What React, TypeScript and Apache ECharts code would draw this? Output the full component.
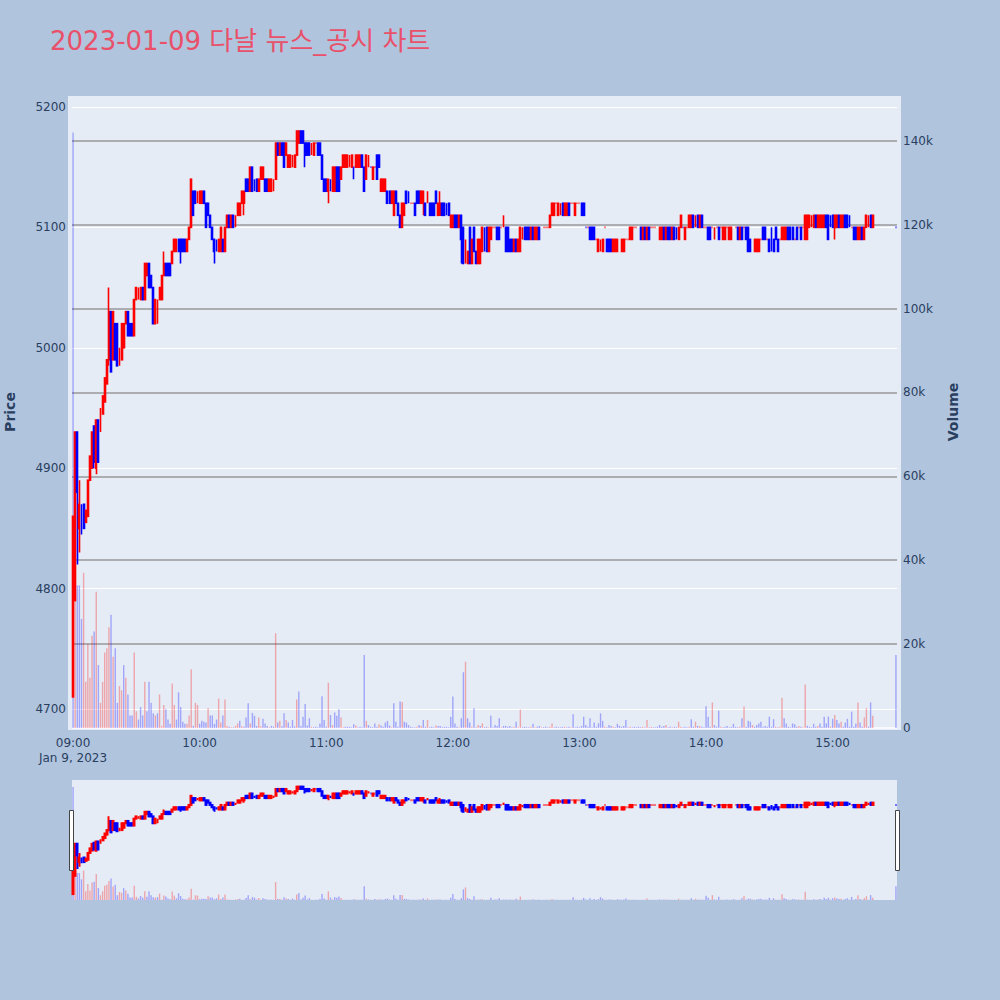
import React, { useEffect, useRef } from 'react';
import * as echarts from 'echarts';

const TITLE = '2023-01-09 다날 뉴스_공시 차트';
const DATE_LABEL = 'Jan 9, 2023';

// One row per minute from 09:00 to 15:19: [open, close] or [open, close, low, high]
const priceRows: number[][] = [
  [4710,4860],[4790,4930],[4930,4880,4820,4930],[4850,4870,4830,4890],[4870,4845],[4870,4850],[4855,4865],[4860,4890],[4890,4910],[4900,4930],
  [4935,4905,4900,4935],[4900,4940,4895,4940],[4940,4905],[4930,4950],[4945,4960],[4955,4975],[4970,4990],[4990,5030,4985,5050],[5030,4980],[4990,5030],
  [5020,4990],[5020,4985],[4985,5000],[4990,5020],[5000,5020],[5020,5030],[5030,5010],[5020,5010],[5020,5010],[5010,5040],
  [5040,5050],[5040,5050],[5040,5050],[5050,5040],[5040,5070],[5060,5070],[5070,5050],[5060,5050],[5050,5020],[5020,5040],
  [5020,5040],[5040,5050],[5040,5060],[5060,5070,5060,5080],[5070,5060],[5070,5060],[5070,5060],[5070,5080],[5080,5090],[5080,5090],
  [5090,5080],[5090,5080,5070,5090],[5090,5080],[5090,5080],[5080,5090],[5090,5100],[5100,5140],[5130,5110],[5130,5120],[5120,5130],
  [5120,5130],[5120,5130],[5130,5120],[5120,5100],[5120,5110],[5110,5100],[5100,5090],[5090,5080,5070,5090],[5090,5080],[5080,5090],
  [5080,5100],[5090,5080],[5080,5100],[5100,5110],[5110,5100],[5100,5110],[5110,5100],[5100,5110],[5110,5120],[5110,5120],
  [5120,5130],[5120,5130,5110,5130],[5140,5130],[5140,5130],[5130,5150],[5150,5130],[5140,5130],[5140,5130],[5130,5140],[5140,5150],
  [5140,5150],[5140,5130],[5140,5130],[5130,5140],[5130,5140],[5130,5140],[5140,5170],[5170,5160],[5160,5170],[5170,5160],
  [5170,5150],[5160,5170],[5150,5160],[5150,5160],[5150,5160],[5150,5160],[5160,5180],[5170,5180],[5180,5170],[5180,5170],
  [5170,5160,5150,5170],[5170,5160],[5170,5160],[5160,5170],[5160,5170],[5170,5170],[5170,5160],[5170,5160],[5160,5140],[5140,5130],
  [5140,5130],[5130,5140,5120,5140],[5140,5130],[5130,5150],[5130,5150],[5150,5130],[5150,5130],[5140,5150],[5150,5160],[5150,5160],
  [5150,5160],[5150,5160],[5150,5160],[5150,5150,5140,5150],[5150,5160],[5150,5160],[5150,5160],[5160,5150],[5150,5130],[5140,5160],
  [5150,5160],[5150,5150],[5140,5150],[5150,5150],[5160,5140],[5160,5150],[5130,5140],[5130,5140],[5130,5140],[5130,5120],
  [5130,5120],[5120,5130],[5110,5130],[5130,5120],[5120,5110],[5110,5100],[5100,5120],[5110,5120],[5130,5120],[5130,5120],
  [5120,5120],[5120,5120],[5120,5110],[5130,5120],[5130,5120],[5120,5130],[5120,5130,5110,5130],[5120,5110],[5120,5130],[5120,5110],
  [5120,5110],[5120,5110],[5130,5120],[5110,5120],[5110,5120,5110,5130],[5120,5110],[5120,5110],[5120,5110],[5120,5110],[5100,5110],
  [5100,5110],[5110,5100],[5110,5100],[5100,5110],[5110,5090,5070,5110],[5100,5070],[5070,5090],[5070,5080],[5100,5070],[5070,5090],
  [5100,5080],[5080,5070],[5070,5090],[5070,5090],[5080,5100],[5100,5080],[5100,5080],[5080,5100],[5090,5100],[5100,5100],
  [5100,5100],[5100,5090],[5100,5090],[5100,5100],[5100,5100,5100,5110],[5100,5080],[5100,5080],[5090,5080],[5090,5080],[5080,5090],
  [5090,5080],[5080,5090],[5080,5100],[5090,5100],[5100,5090],[5100,5090],[5100,5090],[5090,5100],[5100,5090],[5090,5100],
  [5090,5100],[5100,5090],[5100,5100],[5100,5100],[5100,5100],[5100,5100],[5100,5110],[5110,5120],[5110,5120],[5120,5120],
  [5110,5120],[5110,5120],[5120,5110],[5110,5120],[5110,5120],[5120,5110],[5120,5120],[5120,5120],[5110,5120],[5120,5120],
  [5120,5120],[5120,5110],[5120,5110],[5100,5100],[5100,5100],[5100,5090],[5100,5090],[5100,5090],[5090,5090],[5080,5090],
  [5080,5090],[5080,5090],[5100,5100],[5090,5080],[5090,5080],[5090,5080],[5080,5090],[5080,5090],[5080,5090],[5090,5090],
  [5080,5090],[5080,5090],[5090,5090],[5090,5090],[5090,5100],[5090,5100],[5100,5100],[5100,5100],[5100,5100],[5100,5090],
  [5090,5100],[5100,5090],[5090,5100],[5100,5090],[5100,5100],[5100,5100],[5100,5100],[5100,5100],[5090,5100],[5090,5100],
  [5100,5090],[5090,5100],[5100,5090],[5100,5090],[5090,5100],[5100,5090],[5100,5090],[5090,5100],[5100,5110],[5100,5100],
  [5090,5100],[5100,5100],[5100,5110],[5100,5110],[5110,5100],[5100,5110],[5110,5100],[5100,5110],[5110,5100],[5100,5100],
  [5100,5100],[5100,5090],[5100,5090],[5100,5100],[5090,5100],[5100,5100],[5100,5090],[5100,5100],[5090,5100],[5090,5100],
  [5100,5100],[5090,5100],[5090,5100],[5100,5100],[5100,5100],[5100,5090],[5090,5100],[5100,5090],[5100,5100],[5100,5090],
  [5100,5080],[5090,5080],[5090,5090],[5080,5090],[5080,5090],[5080,5090],[5090,5090],[5100,5090],[5100,5090],[5090,5090],
  [5090,5080],[5100,5080],[5090,5080],[5100,5090],[5090,5080],[5090,5090],[5090,5100],[5090,5100],[5090,5100],[5100,5090],
  [5100,5090],[5100,5090],[5090,5090],[5100,5090],[5100,5100],[5100,5090],[5100,5100],[5090,5110],[5090,5110],[5100,5110],
  [5100,5110],[5100,5110],[5110,5100],[5100,5110],[5100,5110],[5100,5110],[5100,5110],[5110,5100],[5110,5090],[5110,5100],
  [5110,5100],[5100,5110,5090,5110],[5100,5110],[5110,5100],[5100,5110],[5100,5110],[5110,5100],[5110,5100],[5110,5100],[5100,5100],
  [5100,5090],[5100,5090],[5090,5100],[5090,5100],[5100,5090],[5090,5100],[5100,5110],[5100,5110],[5110,5100],[5100,5110],
];

// Traded volume per minute, in thousands of shares
const volumeThousands: number[] = [
  142, 31, 34, 34, 26, 37, 11, 20, 12, 22,
  23, 32.5, 15, 6, 11, 18, 19, 24, 27, 17,
  19, 6, 10, 9, 15, 12, 8, 3, 3, 18,
  4, 2, 5, 3, 11, 4, 11, 6, 3.5, 3,
  3.5, 8, 0.5, 5.5, 4.5, 2, 1, 10.6, 5.5, 2,
  8.5, 5, 1.5, 1, 1, 3, 14, 0.5, 6, 5.5,
  1, 1.7, 1.5, 1.3, 4.7, 3, 3, 1, 2, 7,
  1.3, 3, 6.8, 0.5, 0.3, 0.2, 0.2, 0.5, 1.1, 1.7,
  0.4, 0.3, 2.5, 5.9, 1.1, 3.6, 2.9, 0.5, 2.5, 0.4,
  2.2, 1.1, 0.5, 0.2, 0.5, 0.3, 22.6, 1.3, 1.7, 0.4,
  3.5, 1.9, 1.3, 0.3, 1.9, 0.4, 6.8, 8.7, 0.5, 2.7,
  5.7, 0.6, 2.3, 0.3, 0.2, 0.3, 0.2, 1.1, 7.6, 1.9,
  0.3, 10.8, 3.1, 0.7, 3.7, 2.9, 4.5, 2.5, 0.2, 0.3,
  0.3, 0.3, 0.2, 0.9, 0.6, 0.2, 0.3, 0.2, 17.4, 1.7,
  0.7, 0.3, 0.2, 1.1, 0.3, 0.9, 0.6, 0.3, 1.3, 1.7,
  0.6, 0.2, 5.9, 1.5, 0.3, 6.3, 6.2, 1.5, 1.3, 0.7,
  0.3, 0.2, 0.2, 0.3, 0.7, 0.5, 1.9, 0.3, 1.9, 0.2,
  0.3, 0.2, 0.6, 0.5, 0.5, 0.2, 0.3, 0.3, 0.2, 2.7,
  7.5, 1.1, 0.3, 0.2, 2.3, 13.3, 15.8, 2.3, 1.3, 0.3,
  4.7, 0.2, 0.7, 0.5, 1.1, 0.2, 0.3, 0.2, 2.9, 0.2,
  0.7, 0.5, 2.3, 0.2, 0.5, 0.5, 0.3, 0.5, 0.2, 0.3,
  1.5, 0.2, 4.4, 0.2, 0.3, 0.2, 0.2, 0.3, 1, 0.2,
  0.3, 0.5, 0.2, 0.2, 0.3, 0.2, 0.3, 1.1, 0.2, 0.3,
  0.2, 0.2, 0.3, 0.3, 0.2, 0.3, 0.2, 3.3, 0.2, 0.3,
  0.2, 0.5, 2.7, 0.7, 0.3, 2.3, 0.2, 1.3, 0.3, 1.1,
  3.5, 1.7, 0.3, 0.2, 0.7, 0.5, 0.3, 0.2, 1, 0.5,
  0.3, 0.5, 1.9, 0.2, 0.3, 0.2, 0.3, 0.2, 0.3, 0.2,
  0.3, 0.2, 1.9, 0.2, 0.3, 0.2, 0.2, 0.3, 0.7, 0.3,
  0.5, 0.7, 0.2, 0.3, 0.2, 0.3, 0.2, 1.5, 0.3, 0.2,
  0.3, 0.2, 0.3, 2.1, 0.3, 1.5, 0.5, 0.5, 0.3, 0.2,
  5.2, 2.7, 0.3, 6.1, 0.7, 0.3, 4.1, 0.3, 0.2, 0.3,
  0.5, 0.2, 0.3, 1, 0.3, 0.2, 0.3, 2.3, 5.1, 0.3,
  1.7, 1.5, 0.7, 0.3, 0.7, 1.1, 1.5, 0.3, 0.5, 0.3,
  2.7, 0.3, 2.1, 0.3, 0.2, 0.3, 7.2, 2.3, 1.1, 0.3,
  0.2, 1.1, 0.9, 0.3, 0.5, 0.3, 0.2, 10.4, 0.5, 0.3,
  0.2, 1, 0.3, 0.5, 1.1, 0.3, 2.7, 1.1, 2.7, 0.3,
  2.2, 3.1, 1.9, 1.1, 1.5, 0.3, 1.3, 2.2, 0.3, 3.9,
  0.3, 1.1, 6.1, 1.3, 0.3, 2.5, 4.7, 0.3, 6.1, 2.9,
];

// 15:30 closing auction
const closingAuctionRow: number[] = [5100, 5100];
const closingAuctionVolume = 17.4;

const SESSION_MINUTES = 391; // 09:00 .. 15:30 inclusive
const CLOSE_AUCTION_INDEX = 390;

const PRICE_MIN = 4684.2;
const PRICE_MAX = 5209.1;
const VOLUME_MAX = 150.7;

const PAGE_BG = '#B0C4DE';
const PLOT_BG = '#E5ECF6';
const UP = '#FF0000';
const DOWN = '#0000FF';
const UP_FADE = 'rgba(255,0,0,0.3)';
const DOWN_FADE = 'rgba(0,0,255,0.3)';
const TEXT = '#2a3f5f';
const FONT = '"DejaVu Sans", Verdana, "Noto Sans CJK KR", sans-serif';
const CLEAR = 'rgba(0,0,0,0)';

function minuteLabel(m: number): string {
  const h = 9 + Math.floor(m / 60);
  const mm = m % 60;
  return `${String(h).padStart(2, '0')}:${String(mm).padStart(2, '0')}`;
}

const categories = Array.from({ length: SESSION_MINUTES }, (_, m) => minuteLabel(m));

function rowAt(m: number): number[] | null {
  if (m < priceRows.length) return priceRows[m];
  if (m === CLOSE_AUCTION_INDEX) return closingAuctionRow;
  return null;
}

function volumeAt(m: number): number | null {
  if (m < volumeThousands.length) return volumeThousands[m];
  if (m === CLOSE_AUCTION_INDEX) return closingAuctionVolume;
  return null;
}

// ECharts candlestick order: [open, close, lowest, highest]
const candles: any[] = categories.map((_, m) => {
  const row = rowAt(m);
  if (!row) return '-';
  const [o, c, l, h] = row;
  return [o, c, l ?? Math.min(o, c), h ?? Math.max(o, c)];
});

// Volume bar colour follows the change of close against the previous traded minute
const volumeBars: any[] = categories.map((_, m) => {
  const v = volumeAt(m);
  const row = rowAt(m);
  if (v == null || !row) return '-';
  let prevClose: number | null = null;
  for (let k = m - 1; k >= 0; k--) {
    const p = rowAt(k);
    if (p) { prevClose = p[1]; break; }
  }
  const up = prevClose != null && row[1] > prevClose;
  return { value: v, itemStyle: { color: up ? UP_FADE : DOWN_FADE } };
});

const priceGridColors = [CLEAR, '#ffffff', '#ffffff', '#ffffff', '#ffffff', '#ffffff', '#ffffff', CLEAR];
const volumeGridColors = ['#ffffff', '#999999', '#999999', '#999999', '#999999', '#999999', '#999999', '#999999', CLEAR];

function buildOption() {
  const candleStyle = {
    color: UP,
    color0: DOWN,
    borderColor: UP,
    borderColor0: DOWN,
  };
  return {
    animation: false,
    backgroundColor: PAGE_BG,
    textStyle: { fontFamily: FONT },
    graphic: [
      {
        type: 'rect', z: -10, silent: true,
        shape: { x: 68, y: 96, width: 833, height: 634 },
        style: { fill: PLOT_BG },
      },
      {
        type: 'text', x: 50, y: 41,
        style: { text: TITLE, fill: '#E9506A', font: `26px ${FONT}`, verticalAlign: 'middle', align: 'left' },
      },
      {
        type: 'text', x: 73, y: 758,
        style: { text: DATE_LABEL, fill: TEXT, font: `12px ${FONT}`, verticalAlign: 'middle', align: 'center' },
      },
      {
        type: 'text', x: 10, y: 412, rotation: Math.PI / 2,
        style: { text: 'Price', fill: TEXT, font: `bold 14px ${FONT}`, align: 'center', verticalAlign: 'middle' },
      },
      {
        type: 'text', x: 953, y: 412, rotation: Math.PI / 2,
        style: { text: 'Volume', fill: TEXT, font: `bold 14px ${FONT}`, align: 'center', verticalAlign: 'middle' },
      },
      {
        type: 'rect', z: 20,
        shape: { x: 69.5, y: 810.5, width: 4, height: 60 },
        style: { fill: '#ffffff', stroke: '#444444', lineWidth: 1 },
      },
      {
        type: 'rect', z: 20,
        shape: { x: 895.5, y: 810.5, width: 4, height: 60 },
        style: { fill: '#ffffff', stroke: '#444444', lineWidth: 1 },
      },
    ],
    grid: [
      { left: 72, right: 103, top: 96, bottom: 272, show: false },
      { left: 72, right: 103, top: 780, height: 120, show: true, backgroundColor: PLOT_BG, borderWidth: 0 },
    ],
    xAxis: [
      {
        type: 'category', gridIndex: 0, data: categories, boundaryGap: true,
        axisLine: { show: false }, axisTick: { show: false }, splitLine: { show: false },
        axisLabel: {
          interval: (i: number) => i % 60 === 0,
          color: TEXT, fontSize: 12, margin: 9, fontFamily: FONT,
        },
      },
      {
        type: 'category', gridIndex: 1, data: categories, boundaryGap: true, show: false,
      },
    ],
    yAxis: [
      {
        type: 'value', gridIndex: 0, position: 'left', min: PRICE_MIN, max: PRICE_MAX, splitNumber: 5,
        axisLine: { show: false }, axisTick: { show: false },
        axisLabel: {
          color: TEXT, fontSize: 12, margin: 6, fontFamily: FONT,
          showMinLabel: false, showMaxLabel: false,
          formatter: (v: number) => String(Math.round(v)),
        },
        splitLine: { show: true, lineStyle: { color: priceGridColors, width: 1 } },
      },
      {
        type: 'value', gridIndex: 0, position: 'right', min: 0, max: VOLUME_MAX, splitNumber: 7,
        axisLine: { show: false }, axisTick: { show: false },
        axisLabel: {
          color: TEXT, fontSize: 12, margin: 6, fontFamily: FONT,
          showMaxLabel: false,
          formatter: (v: number) => (v === 0 ? '0' : `${Math.round(v)}k`),
        },
        splitLine: { show: true, lineStyle: { color: volumeGridColors, width: 1.5 } },
      },
      { type: 'value', gridIndex: 1, min: PRICE_MIN, max: PRICE_MAX, show: false, splitLine: { show: false } },
      { type: 'value', gridIndex: 1, min: 0, max: VOLUME_MAX, show: false, splitLine: { show: false } },
    ],
    series: [
      {
        name: 'Volume', type: 'bar', xAxisIndex: 0, yAxisIndex: 1, data: volumeBars,
        barWidth: 1.4, silent: true,
      },
      {
        name: 'Price', type: 'candlestick', xAxisIndex: 0, yAxisIndex: 0, data: candles,
        barWidth: 1.4, itemStyle: { ...candleStyle, borderWidth: 1.6 }, silent: true,
      },
      {
        name: 'Volume overview', type: 'bar', xAxisIndex: 1, yAxisIndex: 3, data: volumeBars,
        barWidth: 1.4, silent: true,
      },
      {
        name: 'Price overview', type: 'candlestick', xAxisIndex: 1, yAxisIndex: 2, data: candles,
        barWidth: 1.4, itemStyle: { ...candleStyle, borderWidth: 2 }, silent: true,
      },
    ],
  };
}

export default function App() {
  const ref = useRef<HTMLDivElement>(null);
  useEffect(() => {
    if (!ref.current) return;
    const chart = echarts.init(ref.current, undefined, { renderer: 'svg' });
    chart.setOption(buildOption() as any);
    return () => chart.dispose();
  }, []);
  return (
    <div
      ref={ref}
      style={{ position: 'fixed', left: 0, top: 0, width: 1000, height: 1000 }}
    />
  );
}
